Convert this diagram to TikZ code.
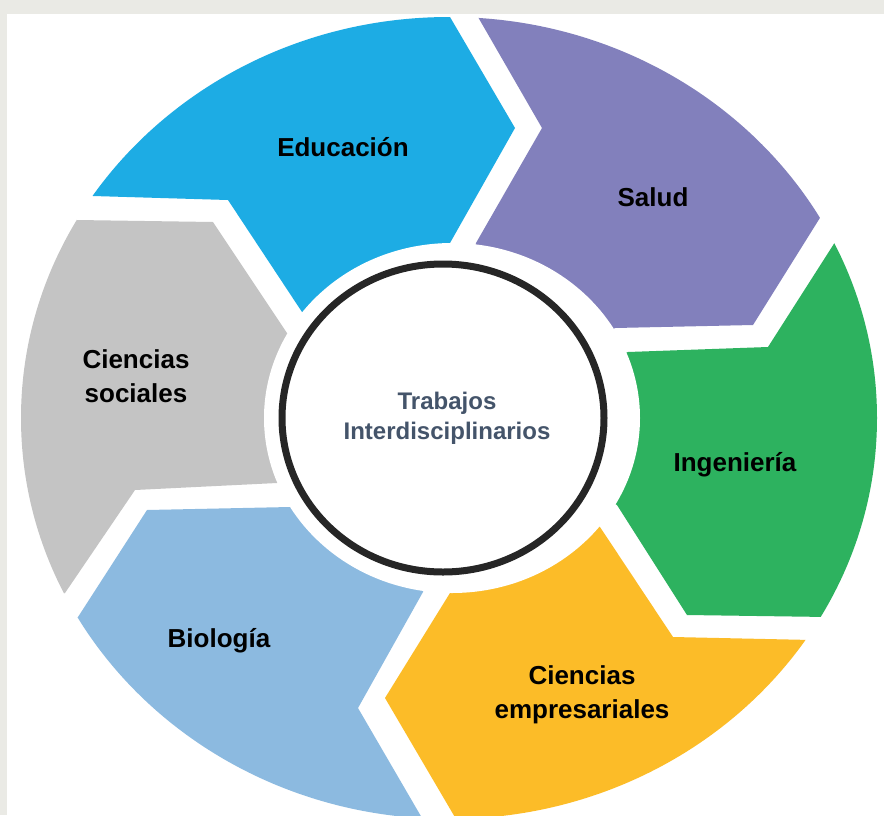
\documentclass[tikz,border=0pt]{standalone}
\usepackage{fontspec}
\setmainfont{Liberation Sans}
\usepackage{tikz}
\usetikzlibrary{calc}
\definecolor{bggray}{RGB}{234, 234, 229}
\definecolor{edublue}{RGB}{29, 172, 228}
\definecolor{salpurple}{RGB}{130, 128, 188}
\definecolor{inggreen}{RGB}{45, 178, 95}
\definecolor{empyellow}{RGB}{252, 188, 40}
\definecolor{biolblue}{RGB}{140, 186, 224}
\definecolor{socgray}{RGB}{196, 196, 196}
\definecolor{slate}{RGB}{68, 84, 106}
\tikzstyle{seglabel} = [draw=none, fill=none, text=black, align=center, font=\fontsize{26}{34}\selectfont\bfseries]
\tikzstyle{centertext} = [draw=none, fill=none, text=slate, align=center, font=\fontsize{24}{30}\selectfont\bfseries]
\tikzstyle{ring} = [draw=black!85, line width=7pt]

\begin{document}
\begin{tikzpicture}[x=1pt, y=-1pt]

% background =============================
\useasboundingbox (0,0) rectangle (884,815);
\fill[bggray] (0,0) rectangle (884,815);
\fill[white] (7,14) rectangle (884,815);

\coordinate (c) at (449,418);

% boundary corners (tip side / notch side)
\coordinate (eduT) at (515,128); \coordinate (eduTo) at (450,17);  \coordinate (eduTi) at (450,243);
\coordinate (salN) at (542,128); \coordinate (salNo) at (478,17);  \coordinate (salNi) at (476,243);

\coordinate (salT) at (753,325); \coordinate (salTo) at (823,213); \coordinate (salTi) at (615,328);
\coordinate (ingN) at (768,347); \coordinate (ingNo) at (837,239); \coordinate (ingNi) at (628,352);

\coordinate (ingT) at (687,615); \coordinate (ingTo) at (828,617); \coordinate (ingTi) at (617,505);
\coordinate (empN) at (673,637); \coordinate (empNo) at (812,640); \coordinate (empNi) at (600,527);

\coordinate (empT) at (385,698); \coordinate (empTo) at (456,819); \coordinate (empTi) at (450,593);
\coordinate (bioN) at (358,708); \coordinate (bioNo) at (422,818); \coordinate (bioNi) at (423,592);

\coordinate (bioT) at (147,510); \coordinate (bioTo) at (78,617);  \coordinate (bioTi) at (290,507);
\coordinate (socN) at (135,490); \coordinate (socNo) at (65,593);  \coordinate (socNi) at (277,483);

\coordinate (socT) at (213,222); \coordinate (socTo) at (77,220);  \coordinate (socTi) at (287,333);
\coordinate (eduN) at (228,200); \coordinate (eduNo) at (93,196);  \coordinate (eduNi) at (302,312);

% segments
\begin{scope}
\clip (c) ellipse [x radius=428, y radius=401];
\fill[edublue] ($(c)!1.5!(eduNo)$) -- (eduNo) -- (eduN) -- (eduNi) -- (c) -- (eduTi) -- (eduT) -- (eduTo) -- ($(c)!1.5!(eduTo)$) -- cycle;
\fill[salpurple] ($(c)!1.5!(salNo)$) -- (salNo) -- (salN) -- (salNi) -- (c) -- (salTi) -- (salT) -- (salTo) -- ($(c)!1.5!(salTo)$) -- cycle;
\fill[inggreen] ($(c)!1.5!(ingNo)$) -- (ingNo) -- (ingN) -- (ingNi) -- (c) -- (ingTi) -- (ingT) -- (ingTo) -- ($(c)!1.5!(ingTo)$) -- cycle;
\fill[empyellow] ($(c)!1.5!(empNo)$) -- (empNo) -- (empN) -- (empNi) -- (c) -- (empTi) -- (empT) -- (empTo) -- ($(c)!1.5!(empTo)$) -- cycle;
\fill[biolblue] ($(c)!1.5!(bioNo)$) -- (bioNo) -- (bioN) -- (bioNi) -- (c) -- (bioTi) -- (bioT) -- (bioTo) -- ($(c)!1.5!(bioTo)$) -- cycle;
\fill[socgray] ($(c)!1.5!(socNo)$) -- (socNo) -- (socN) -- (socNi) -- (c) -- (socTi) -- (socT) -- (socTo) -- ($(c)!1.5!(socTo)$) -- cycle;
\end{scope}

% centre
\fill[white] (452,418) ellipse [x radius=188, y radius=175];
\draw[ring] (443,418) ellipse [x radius=161, y radius=154];

% labels
\node[seglabel] (edu) at (343,147) {Educación};
\node[seglabel] (salud) at (653,197) {Salud};
\node[seglabel] (ing) at (735,465) {Ingeniería};
\node[seglabel] (emp) at (582,695) {Ciencias\\empresariales};
\node[seglabel] (bio) at (219,641) {Biología};
\node[seglabel] (soc) at (136,376) {Ciencias\\sociales};
\node[centertext] (trab) at (447,418) {Trabajos\\Interdisciplinarios};

\end{tikzpicture}
\end{document}
